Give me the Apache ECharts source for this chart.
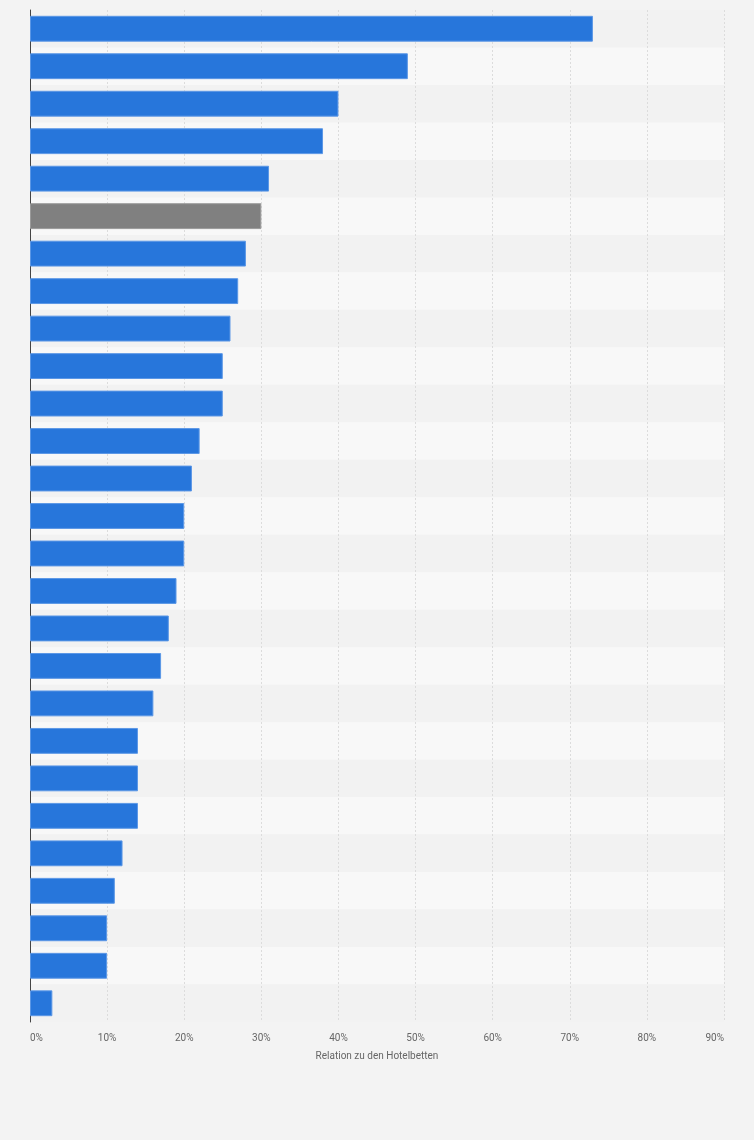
<!DOCTYPE html>
<html lang="de">
<head>
    <meta charset="UTF-8">
    <title>Relation zu den Hotelbetten</title>
    <script src="https://cdn.jsdelivr.net/npm/echarts@6/dist/echarts.min.js"></script>
    <style>
        html, body { margin: 0; padding: 0; background: #f3f3f3; }
    </style>
</head>
<body>
<div id="main" style="width: 754px;height: 1140px;"></div>
<script type="text/javascript">
    // Kategorien (im Original ohne sichtbare Beschriftung)
    var categories = ['1','2','3','4','5','6','7','8','9','10','11','12','13','14',
        '15','16','17','18','19','20','21','22','23','24','25','26','27'];
    // Werte in Prozent
    var values = [73, 49, 40, 38, 31, 30, 28, 27, 26, 25, 25, 22, 21, 20,
        20, 19, 18, 17, 16, 14, 14, 14, 12, 11, 10, 10, 2.9];
    // hervorgehobener Balken (grau)
    var highlightIndex = 5;
    var xTicks = [0, 10, 20, 30, 40, 50, 60, 70, 80, 90];

    var myChart = echarts.init(document.getElementById('main'));

    var seriesData = [];
    for (var i = 0; i < values.length; i++) {
        seriesData.push({
            value: values[i],
            itemStyle: {
                color: i === highlightIndex ? '#808080' : '#2776db',
                borderColor: i === highlightIndex ? '#9a9a9a' : '#5b97e6',
                borderWidth: 1
            }
        });
    }

    myChart.setOption({
        backgroundColor: '#f3f3f3',
        animation: false,
        grid: {
            left: 30,
            right: 30,
            top: 10,
            bottom: 118,
            containLabel: false
        },
        xAxis: {
            type: 'value',
            min: xTicks[0],
            max: xTicks[xTicks.length - 1],
            interval: 10,
            name: 'Relation zu den Hotelbetten',
            nameLocation: 'middle',
            nameGap: 29,
            nameTextStyle: {
                color: '#666',
                fontSize: 10,
                fontFamily: 'Roboto'
            },
            axisLine: { show: false },
            axisTick: { show: false },
            axisLabel: {
                color: '#666',
                fontSize: 10,
                fontFamily: 'Roboto',
                margin: 11,
                alignMinLabel: 'left',
                alignMaxLabel: 'right',
                formatter: '{value}%'
            },
            splitLine: {
                show: true,
                lineStyle: { color: '#dcdcdc', type: [2, 2], width: 1 }
            }
        },
        yAxis: {
            type: 'category',
            data: categories,
            inverse: true,
            axisLine: { show: true, lineStyle: { color: '#444', width: 1 } },
            axisTick: { show: false },
            axisLabel: { show: false },
            splitArea: {
                show: true,
                areaStyle: { color: ['#f2f2f2', '#f8f8f8'] }
            }
        },
        series: [{
            type: 'bar',
            data: seriesData,
            barCategoryGap: '31%',
            z: 3
        }]
    });
</script>
</body>
</html>
